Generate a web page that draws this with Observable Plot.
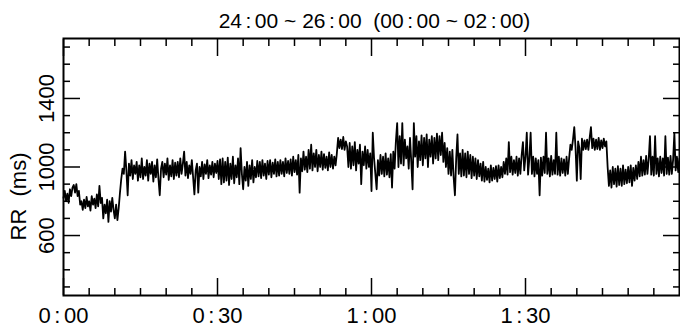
<!DOCTYPE html>
<html><head><meta charset="utf-8">
<script src="https://cdn.jsdelivr.net/npm/d3@7"></script>
<script src="https://cdn.jsdelivr.net/npm/@observablehq/plot@0.6"></script>
<style>body{margin:0;background:#fff}</style>
</head><body><div id="chart"></div>
<script>
const titleText = "24\u2006:\u200600 ~ 26\u2006:\u200600\u00a0\u00a0(00\u2006:\u200600 ~ 02\u2006:\u200600)";
const yLabelText = "RR\u00a0\u00a0(ms)";
const sampleStepMin = 0.25;
const rrValues = [
820, 860, 800, 845, 790, 870, 830, 880,
895, 850, 900, 830, 860, 780, 800, 750,
810, 760, 825, 770, 800, 745, 830, 780,
815, 760, 840, 770, 890, 790, 820, 700,
780, 730, 810, 680, 800, 740, 820, 750,
700, 780, 690, 760, 850, 930, 990, 960,
1090, 980, 835, 1020, 950, 1040, 930, 1010,
960, 1030, 920, 1010, 940, 1050, 930, 1000,
950, 1040, 920, 1020, 960, 1030, 915, 1010,
940, 1045, 930, 835, 990, 1030, 940, 1020,
955, 1050, 925, 1010, 945, 1040, 930, 1025,
950, 1030, 940, 1050, 960, 1020, 1090, 950,
1030, 935, 1010, 960, 1040, 940, 840, 980,
1020, 850, 1000, 945, 1030, 930, 1015, 960,
1040, 935, 1010, 955, 1030, 940, 1020, 965,
1035, 930, 1045, 900, 1050, 910, 1030, 920,
1055, 895, 1020, 930, 1060, 905, 1010, 940,
1050, 900, 1110, 960, 870, 1000, 920, 1030,
890, 1010, 930, 1040, 910, 1000, 940, 1035,
945, 1030, 935, 1040, 950, 1020, 930, 1035,
955, 1040, 940, 1025, 960, 1045, 945, 1030,
950, 1040, 960, 1030, 945, 1050, 965, 1035,
960, 1045, 950, 1060, 970, 1040, 955, 1070,
850, 1050, 975, 1090, 985, 1060, 970, 1100,
990, 1130, 980, 1080, 1000, 1100, 975, 1070,
1000, 1090, 985, 1075, 995, 1060, 980, 1085,
1000, 1070, 990, 1060, 1010, 1080, 1170, 1110,
1160, 1105, 1175, 1100, 1150, 1120, 1000, 1140,
990, 1120, 1010, 1145, 980, 1100, 1020, 1130,
900, 1090, 1010, 1120, 990, 1100, 1000, 1080,
860, 1200, 1050, 960, 870, 1040, 950, 1070,
960, 1060, 945, 1080, 955, 1050, 940, 1075,
880, 1090, 990, 1150, 1256, 1000, 1180, 1020,
1256, 1010, 1160, 1050, 1120, 990, 1170, 1030,
870, 1256, 1060, 1180, 1000, 1150, 1040, 1185,
1010, 1170, 1050, 1190, 1000, 1160, 1060, 1180,
1020, 1170, 1050, 1195, 1040, 1180, 1070, 1200,
1030, 1140, 1000, 1110, 960, 1090, 950, 1100,
940, 835, 1050, 1190, 960, 1080, 945, 1100,
950, 1080, 940, 1090, 960, 1070, 935, 1060,
950, 1050, 930, 1040, 945, 1020, 920, 1030,
915, 1000, 925, 990, 910, 1010, 920, 995,
930, 1005, 915, 1010, 935, 1000, 940, 1030,
960, 1050, 955, 1145, 970, 1060, 955, 1040,
965, 1060, 950, 1050, 960, 1070, 1145, 980,
1060, 1200, 955, 1050, 1200, 960, 1060, 945,
1050, 960, 1040, 835, 1055, 950, 1060, 965,
1200, 960, 1050, 945, 1065, 955, 1040, 960,
1200, 955, 1060, 950, 1050, 965, 1045, 950,
1060, 960, 1050, 1130, 1100, 1160, 1233, 1110,
920, 1150, 1110, 930, 1165, 1100, 1155, 1105,
1160, 1100, 1170, 1233, 1110, 1165, 1100, 1160,
1105, 1170, 1100, 1155, 1110, 1165, 1120, 1150,
1000, 890, 980, 880, 1000, 900, 990, 885,
1005, 895, 990, 890, 1010, 900, 985, 905,
1000, 910, 1010, 890, 995, 920, 1010, 930,
1030, 945, 1060, 950, 1040, 955, 1065, 960,
1045, 1180, 955, 1060, 950, 1180, 960, 1050,
945, 1060, 965, 1050, 950, 1180, 960, 1055,
955, 1065, 960, 1040, 1198, 980, 1060, 970,
1050
];
const xMajorTicks = [0, 30, 60, 90];
const xMinorTicks = [5, 10, 15, 20, 25, 35, 40, 45, 50, 55, 65, 70, 75, 80, 85, 95, 100, 105, 110, 115];
const yMajorTicks = [600, 1000, 1400];
const yMinorTicks = [300, 400, 500, 700, 800, 900, 1100, 1200, 1300, 1500, 1600, 1700];

const series = rrValues.map((rr, i) => ({t: i * sampleStepMin, rr}));
const fmt = m => `${Math.floor(m / 60)}\u2006:\u2006${String(m % 60).padStart(2, "0")}`;
const blank = () => "";
const tk = {label: null, strokeWidth: 1.5, tickFormat: blank};

const chart = Plot.plot({
  width: 680, height: 333,
  marginLeft: 63, marginRight: 1, marginTop: 38, marginBottom: 38,
  x: {domain: [0, 120]},
  y: {domain: [250, 1750]},
  style: {fontFamily: "'Liberation Sans', Arial, sans-serif", background: "white", color: "black", overflow: "visible"},
  marks: [
    Plot.line(series, {x: "t", y: "rr", stroke: "black", strokeWidth: 1.8}),
    Plot.frame({stroke: "black", strokeWidth: 2}),
    Plot.axisX(xMinorTicks, {...tk, anchor: "bottom", tickSize: -7}),
    Plot.axisX(xMajorTicks, {...tk, anchor: "bottom", tickSize: -17}),
    Plot.axisX(xMinorTicks, {...tk, anchor: "top", tickSize: -7}),
    Plot.axisX(xMajorTicks, {...tk, anchor: "top", tickSize: -17}),
    Plot.axisY(yMinorTicks, {...tk, anchor: "left", tickSize: -7}),
    Plot.axisY(yMajorTicks, {...tk, anchor: "left", tickSize: -17}),
    Plot.axisY(yMinorTicks, {...tk, anchor: "right", tickSize: -7}),
    Plot.axisY(yMajorTicks, {...tk, anchor: "right", tickSize: -17}),
    Plot.axisX(xMajorTicks, {anchor: "bottom", label: null, tickSize: 0, tickPadding: 12, tickFormat: fmt, fontSize: 22}),
    Plot.axisY(yMajorTicks, {anchor: "left", label: null, tickSize: 0, tickPadding: 17, rotate: -90, textAnchor: "middle", fontSize: 22, tickFormat: d => String(d)}),
    Plot.text([yLabelText], {text: d => d, frameAnchor: "left", dx: -44.5, dy: 29.5, rotate: -90, textAnchor: "middle", lineAnchor: "middle", fontSize: 22}),
    Plot.text([titleText], {text: d => d, frameAnchor: "top", dx: 3, dy: -17.5, textAnchor: "middle", lineAnchor: "middle", fontSize: 21})
  ]
});
document.getElementById("chart").appendChild(chart);
</script>
</body></html>
